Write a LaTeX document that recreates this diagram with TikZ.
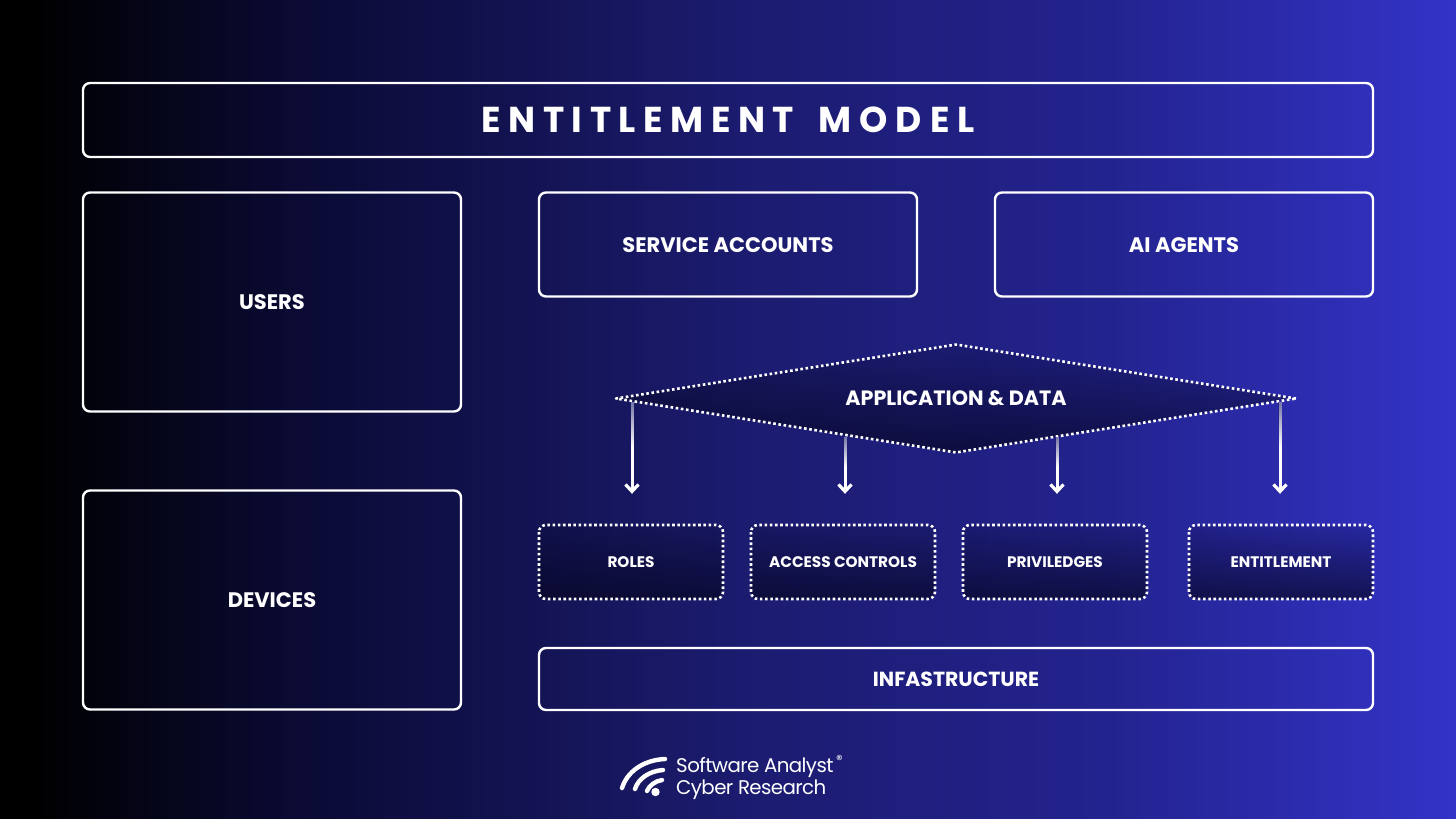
\documentclass[tikz,border=0pt]{standalone}
\usepackage{fontspec}
\setmainfont{Poppins}
\usepackage{tikz}
\usetikzlibrary{arrows.meta}
\usetikzlibrary{shapes.geometric}
\usetikzlibrary{fadings}
\definecolor{bgA}{HTML}{000000}
\definecolor{bgB}{HTML}{0A0A33}
\definecolor{bgC}{HTML}{1B1B6E}
\definecolor{bgD}{HTML}{23238F}
\definecolor{bgE}{HTML}{3333C8}
\definecolor{inner}{HTML}{05051E}
\pgfdeclarehorizontalshading{backdrop}{100bp}{color(0bp)=(bgA); color(26bp)=(bgA); color(35bp)=(bgB); color(50bp)=(bgC); color(63bp)=(bgD); color(75bp)=(bgE); color(100bp)=(bgE)}
\tikzset{
	box/.style={draw=white,line width=2.4pt,rounded corners=7pt,align=center,text=white,font=\fontsize{21}{25}\selectfont\bfseries,inner sep=0pt,text height=15pt,text depth=0pt},
	dotbox/.style={draw=none,rounded corners=7pt,align=center,text=white,font=\fontsize{15.3}{18}\selectfont\bfseries,inner sep=0pt,minimum width=184pt,minimum height=74pt,text height=11pt,text depth=0pt},
	dotline/.style={draw=white,line width=2.6pt,dash pattern=on 2.6pt off 2.6pt,line join=round},
	flow/.style={-{Straight Barb[length=7pt,width=13pt,line width=3.2pt]},white,line width=3pt,shorten >=31pt},
	fadetop/.style={fill=bgC,opacity=0.6,path fading=south},
	tint/.style={fill=inner,opacity=0.15},
	shadebot/.style={fill=inner,opacity=0.6,path fading=north},
}
\begin{document}
\begin{tikzpicture}[x=1pt,y=-1pt]
	\useasboundingbox (0,0) rectangle (1456,819);
	\shade[shading=backdrop] (0,0) rectangle (1456,819);

	\node[box,minimum width=1290pt,minimum height=74pt,text height=25pt] (title) at (728,120) {\fontsize{36}{40}\selectfont{\addfontfeature{LetterSpace=21}ENTITLEMENT}\hspace{17pt} {\addfontfeature{LetterSpace=22}MODEL}};
	\node[box,minimum width=378pt,minimum height=219pt] (users) at (272,302) {USERS};
	\node[box,minimum width=378pt,minimum height=219pt] (devices) at (272,600) {DEVICES};
	\node[box,minimum width=378pt,minimum height=104pt] (service) at (728,244.5) {SERVICE ACCOUNTS};
	\node[box,minimum width=378pt,minimum height=104pt] (agents) at (1184,244.5) {AI AGENTS};
	\node[box,minimum width=834pt,minimum height=62pt] (infra) at (956,679) {\fontsize{20.4}{25}\selectfont INFASTRUCTURE};

	% application diamond
	\fill[tint] (616,398) -- (956,344) -- (1296,398) -- (956,453) -- cycle;
	\fill[shadebot] (616,398) -- (956,344) -- (1296,398) -- (956,453) -- cycle;
	\node[diamond,shape aspect=6.2,dotline,minimum width=681pt,minimum height=109pt,inner sep=0pt,text=white,font=\fontsize{20.7}{24}\selectfont\bfseries,text height=14.5pt,text depth=0pt] (data) at (956,398.5) {APPLICATION \& DATA};

	% lower row
	\foreach \name/\xpos/\txt in {roles/631/ROLES,access/843/ACCESS CONTROLS,priv/1055/PRIVILEDGES,entitle/1281/ENTITLEMENT}{
		\fill[tint,rounded corners=7pt] (\xpos-92,525) rectangle (\xpos+92,599);
		\fill[shadebot,rounded corners=7pt] (\xpos-92,525) rectangle (\xpos+92,599);
		\draw[dotline,rounded corners=7pt] (\xpos-92,525) rectangle (\xpos+92,599);
		\node[dotbox] (\name) at (\xpos,562) {\txt};
	}

	\coordinate (rolestop) at (632,402);
	\coordinate (accesstop) at (845,437);
	\coordinate (privtop) at (1057,437);
	\coordinate (entitletop) at (1280,402);
	\draw[flow] (rolestop) -- (rolestop |- roles.north);
	\draw[flow] (accesstop) -- (accesstop |- access.north);
	\draw[flow] (privtop) -- (privtop |- priv.north);
	\draw[flow] (entitletop) -- (entitletop |- entitle.north);
	\fill[fadetop] (rolestop) ++(-2,0) rectangle ++(4,45);
	\fill[fadetop] (accesstop) ++(-2,0) rectangle ++(4,30);
	\fill[fadetop] (privtop) ++(-2,0) rectangle ++(4,30);
	\fill[fadetop] (entitletop) ++(-2,0) rectangle ++(4,45);

	% logo
	\draw[white,line width=4.4pt,line cap=round] (622,788) .. controls (627,772) and (643,760) .. (665,759);
	\draw[white,line width=4.4pt,line cap=round] (635,789) .. controls (638,779) and (649,771) .. (663,770);
	\draw[white,line width=4.4pt,line cap=round] (647,791) .. controls (649,786) and (655,781) .. (662,780);
	\fill[white] (655.5,792) circle (4.2pt);
	\node[anchor=west,text=white,inner sep=0pt,align=left,font=\fontsize{19.8}{22}\selectfont] (logo) at (676,778.5) {\addfontfeature{LetterSpace=-3}Software Analyst\\\addfontfeature{LetterSpace=-3}Cyber Research};
	\node[anchor=west,text=white,inner sep=0pt,font=\fontsize{13}{14}\selectfont] (reg) at (836,760) {\textregistered};
\end{tikzpicture}
\end{document}
